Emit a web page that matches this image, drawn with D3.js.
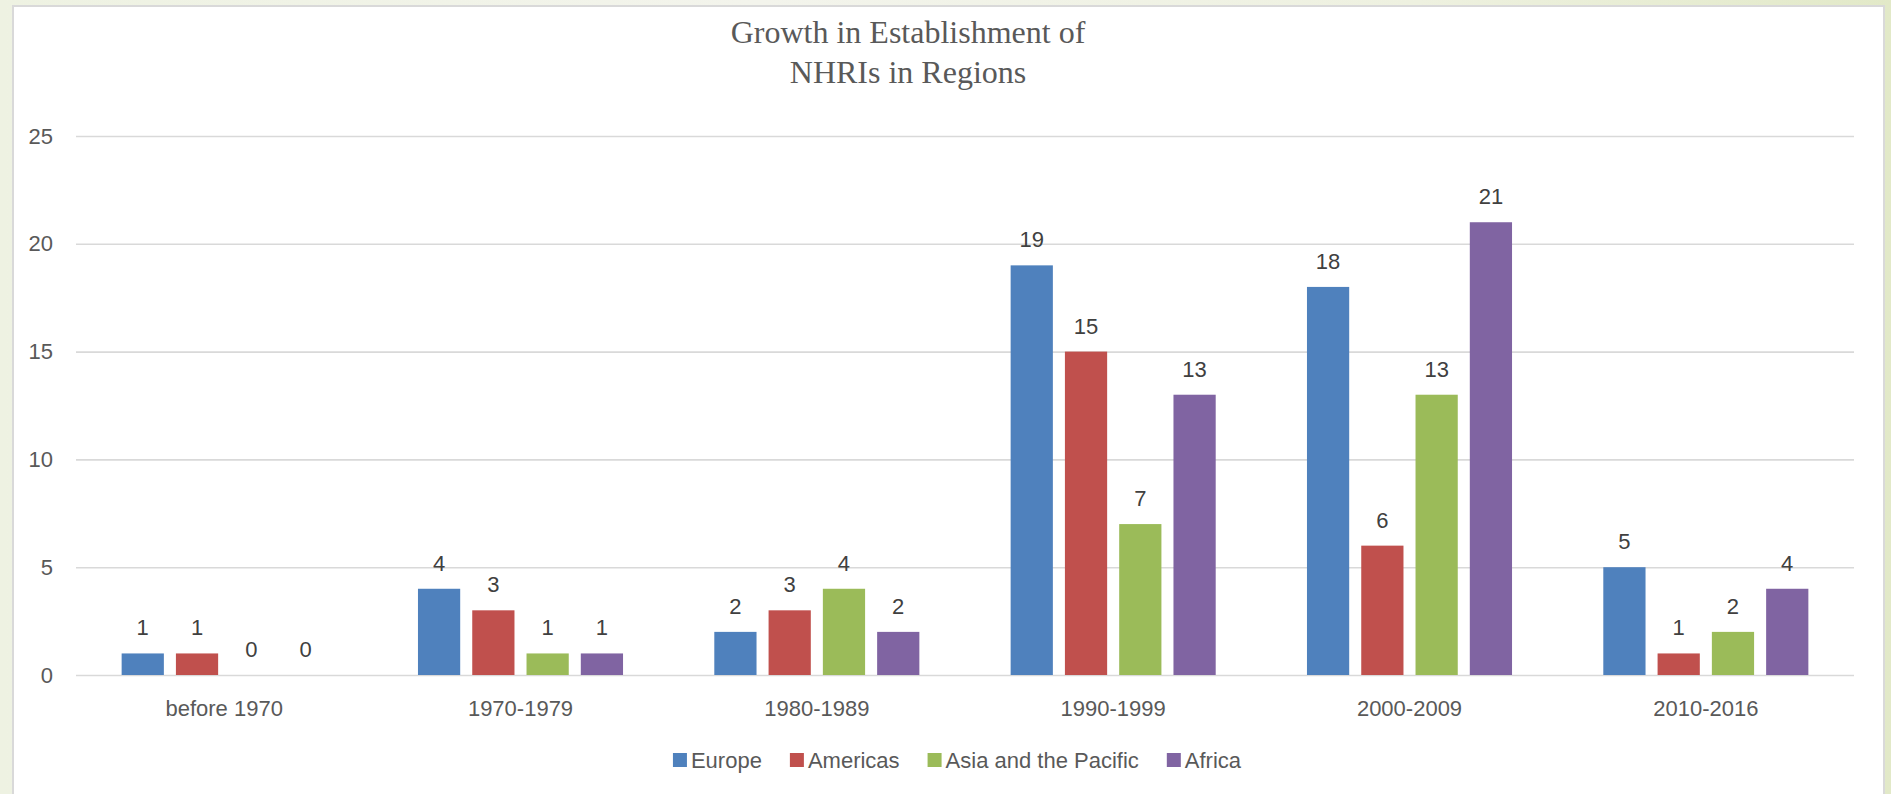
<!DOCTYPE html>
<html>
<head>
<meta charset="utf-8">
<script src="https://cdn.jsdelivr.net/npm/d3@7"></script>
<style>
  html, body { margin: 0; padding: 0; }
  body { width: 1891px; height: 794px; overflow: hidden;
         background: linear-gradient(90deg, #eef2e2 0%, #f3f4ec 40%, #eef1e0 75%, #e2e9c8 100%); }
  svg { display: block; }
</style>
</head>
<body>
<svg id="chart" width="1891" height="794"></svg>
<script>
const categories = ["before 1970", "1970-1979", "1980-1989", "1990-1999", "2000-2009", "2010-2016"];
const seriesNames = ["Europe", "Americas", "Asia and the Pacific", "Africa"];
const europe   = [1, 4, 2, 19, 18, 5];
const americas = [1, 3, 3, 15, 6, 1];
const asiaPac  = [0, 1, 4, 7, 13, 2];
const africa   = [0, 1, 2, 13, 21, 4];
const yTicks = [0, 5, 10, 15, 20, 25];
const titleLines = ["Growth in Establishment of", "NHRIs in Regions"];
const colors = ["#4F81BD", "#C0504D", "#9BBB59", "#8064A2"];

const seriesValues = [europe, americas, asiaPac, africa];
const rows = categories.map((c, i) => ({cat: c, vals: seriesValues.map((s, k) => ({name: seriesNames[k], v: s[i], k}))}));

const svg = d3.select("#chart");
const sans = "'Liberation Sans', Arial, sans-serif";

// panel
svg.append("rect").attr("x", 13).attr("y", 6).attr("width", 1871).attr("height", 800)
  .attr("fill", "#ffffff").attr("stroke", "#d9d9d9").attr("stroke-width", 2);

const plotL = 76, plotR = 1854, plotT = 136, plotB = 675;
const x0 = d3.scaleBand().domain(categories).range([plotL, plotR]).paddingInner(0.308).paddingOuter(0.154);
const x1 = d3.scaleBand().domain(seriesNames).range([0, x0.bandwidth()]).paddingInner(0.222).paddingOuter(0);
const y = d3.scaleLinear().domain([0, 25]).range([plotB, plotT]);

// title
svg.append("text").attr("text-anchor", "middle").attr("fill", "#595959")
  .style("font-family", "'Liberation Serif', 'Times New Roman', serif").style("font-size", "32px")
  .selectAll("tspan").data(titleLines).join("tspan")
  .attr("x", 908).attr("y", (d, i) => 43 + i * 40).text(d => d);

// gridlines + y labels via axis
const yAxis = svg.append("g").attr("transform", `translate(${plotL},0)`)
  .call(d3.axisLeft(y).tickValues(yTicks).tickSize(-(plotR - plotL)).tickPadding(23));
yAxis.select(".domain").remove();
yAxis.selectAll(".tick line").attr("stroke", "#d9d9d9").attr("stroke-width", 1.6);
yAxis.selectAll(".tick text").attr("fill", "#595959").style("font-family", sans).style("font-size", "22px");

// x labels
const xAxis = svg.append("g").attr("transform", `translate(0,${plotB})`)
  .call(d3.axisBottom(x0).tickSize(0).tickPadding(25));
xAxis.select(".domain").remove();
xAxis.selectAll(".tick text").attr("fill", "#595959").style("font-family", sans).style("font-size", "22px");

// bars
const groups = svg.append("g").selectAll("g").data(rows).join("g")
  .attr("transform", d => `translate(${x0(d.cat)},0)`);
groups.selectAll("rect").data(d => d.vals).join("rect")
  .attr("x", d => x1(d.name)).attr("width", x1.bandwidth())
  .attr("y", d => y(d.v)).attr("height", d => y(0) - y(d.v))
  .attr("fill", d => colors[d.k]);
groups.selectAll("text").data(d => d.vals).join("text")
  .attr("x", d => x1(d.name) + x1.bandwidth() / 2).attr("y", d => y(d.v) - 18)
  .attr("text-anchor", "middle").attr("fill", "#404040")
  .style("font-family", sans).style("font-size", "22px").text(d => d.v);

// legend
const legend = svg.append("g");
const items = legend.selectAll("g").data(seriesNames).join("g");
items.append("rect").attr("width", 14).attr("height", 14).attr("y", -15).attr("fill", (d, i) => colors[i]);
items.append("text").attr("x", 18).attr("fill", "#595959")
  .style("font-family", sans).style("font-size", "22px").text(d => d);
let cx = 0;
items.each(function() {
  const g = d3.select(this);
  g.attr("transform", `translate(${cx},0)`);
  cx += 18 + g.select("text").node().getComputedTextLength() + 28;
});
const totalW = cx - 28;
legend.attr("transform", `translate(${(plotL + plotR) / 2 - totalW / 2 - 8},768)`);
</script>
</body>
</html>
